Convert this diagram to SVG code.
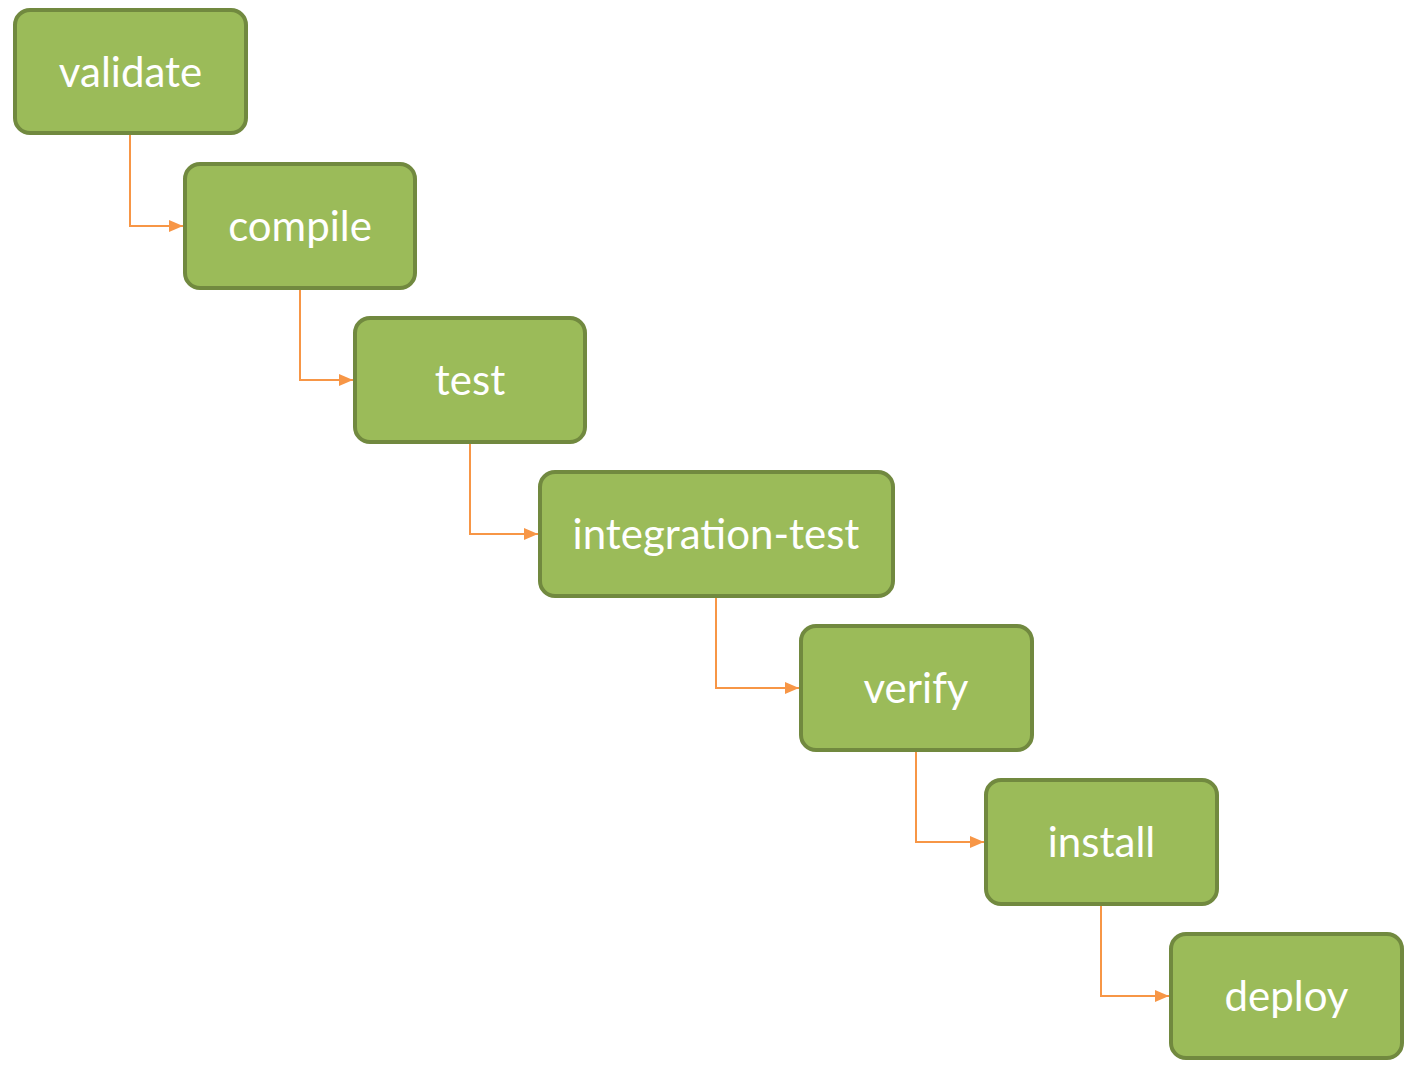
<svg xmlns="http://www.w3.org/2000/svg" width="1416" height="1070" viewBox="0 0 1416 1070">
<style>
.box{fill:#9BBB59;stroke:#71893F;stroke-width:4}
.lbl{fill:#fff;font-family:Lato,"Open Sans","Liberation Sans",sans-serif;font-size:42px;text-anchor:middle}
.con{fill:none;stroke:#F79646;stroke-width:2}
</style>
<defs>
<marker id="ah" markerWidth="14" markerHeight="12" refX="14" refY="6" orient="auto" markerUnits="userSpaceOnUse">
<path d="M0,0 L14,6 L0,12 Z" fill="#F79646"/>
</marker>
</defs>
<rect width="1416" height="1070" fill="#fff"/>
<g id="connectors">
<path class="con" d="M130,134 V226 H183" marker-end="url(#ah)"/>
<path class="con" d="M300,288 V380 H353" marker-end="url(#ah)"/>
<path class="con" d="M470,442 V534 H538" marker-end="url(#ah)"/>
<path class="con" d="M716,596 V688 H799" marker-end="url(#ah)"/>
<path class="con" d="M916,750 V842 H984" marker-end="url(#ah)"/>
<path class="con" d="M1101,904 V996 H1169" marker-end="url(#ah)"/>
</g>
<g id="validate"><rect class="box" x="15" y="10" width="231" height="123" rx="15"/><text class="lbl" x="130.5" y="87">validate</text></g>
<g id="compile"><rect class="box" x="185" y="164" width="230" height="124" rx="15"/><text class="lbl" x="300" y="241">compile</text></g>
<g id="test"><rect class="box" x="355" y="318" width="230" height="124" rx="15"/><text class="lbl" x="470" y="395">test</text></g>
<g id="integration-test"><rect class="box" x="540" y="472" width="353" height="124" rx="15"/><text class="lbl" x="716" y="549">integration-test</text></g>
<g id="verify"><rect class="box" x="801" y="626" width="231" height="124" rx="15"/><text class="lbl" x="916" y="703">verify</text></g>
<g id="install"><rect class="box" x="986" y="780" width="231" height="124" rx="15"/><text class="lbl" x="1101.5" y="857">install</text></g>
<g id="deploy"><rect class="box" x="1171" y="934" width="231" height="124" rx="15"/><text class="lbl" x="1286.5" y="1011">deploy</text></g>
</svg>
